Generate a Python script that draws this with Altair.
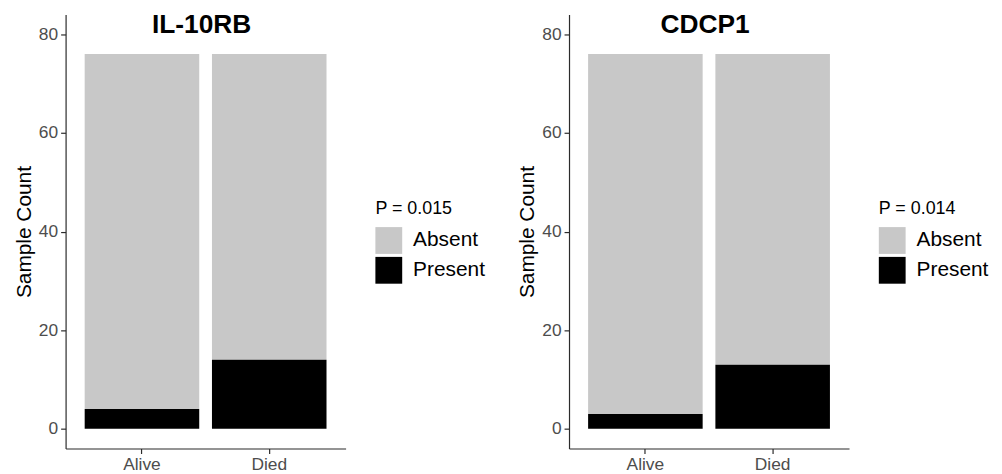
import altair as alt
import pandas as pd

FONT = "Liberation Sans"

markers = ["IL-10RB", "CDCP1"]
p_labels = ["P = 0.015", "P = 0.014"]
groups = ["Alive", "Died"]
statuses = ["Absent", "Present"]
present_counts = {"IL-10RB": [4, 14], "CDCP1": [3, 13]}
absent_counts = {"IL-10RB": [72, 62], "CDCP1": [73, 63]}
status_colors = ["#c8c8c8", "#000000"]
y_ticks = [0, 20, 40, 60, 80]

W, H = 282, 437


def panel(name, ptxt):
    df = pd.DataFrame({
        "group": groups + groups,
        "status": ["Absent"] * 2 + ["Present"] * 2,
        "count": absent_counts[name] + present_counts[name],
        "ord": [1, 1, 0, 0],
    })
    bars = alt.Chart(df).mark_bar().encode(
        x=alt.X("group:N", sort=groups,
                scale=alt.Scale(paddingInner=0.1, paddingOuter=0.15),
                axis=alt.Axis(title=None, labelAngle=0, labelPadding=2)),
        y=alt.Y("count:Q", stack="zero",
                scale=alt.Scale(domain=[-4, 84], nice=False, zero=False),
                axis=alt.Axis(title="Sample Count", values=y_ticks,
                              labelPadding=3, titlePadding=4)),
        color=alt.Color("status:N",
                        scale=alt.Scale(domain=statuses, range=status_colors),
                        legend=alt.Legend(
                            title=ptxt, orient="none", legendX=312, legendY=187,
                            titleFontSize=18, titleFontWeight="normal",
                            titleFont=FONT, titleColor="black", titlePadding=9,
                            labelFontSize=21, labelFont=FONT, labelColor="black",
                            labelOffset=11, symbolType="square", symbolSize=729,
                            symbolStrokeWidth=0, symbolOpacity=1, rowPadding=3,
                            padding=0)),
        order=alt.Order("ord:Q"),
    )
    title = alt.Chart(pd.DataFrame({"t": [name]})).mark_text(
        fontSize=26.5, fontWeight="bold", font=FONT, baseline="alphabetic",
        align="center", color="black"
    ).encode(text="t:N", x=alt.value(137), y=alt.value(19))
    return alt.layer(bars, title).properties(width=W, height=H)


chart = alt.hconcat(
    panel(markers[0], p_labels[0]),
    panel(markers[1], p_labels[1]),
    spacing=31,
).resolve_scale(color="independent", x="independent", y="independent"
).resolve_legend(color="independent"
).properties(
    padding={"left": 5, "top": 3, "right": 5, "bottom": 0}
).configure_view(strokeWidth=0).configure_axis(
    grid=False, domainColor="#2b2b2b", domainWidth=1.2, tickColor="#2b2b2b",
    tickWidth=1.2, tickSize=5, labelFont=FONT, labelFontSize=17.5,
    labelColor="#4d4d4d", titleFont=FONT, titleFontSize=21,
    titleFontWeight="normal", titleColor="black"
)

chart.save("out.html", embed_options={"renderer": "svg", "actions": False})
